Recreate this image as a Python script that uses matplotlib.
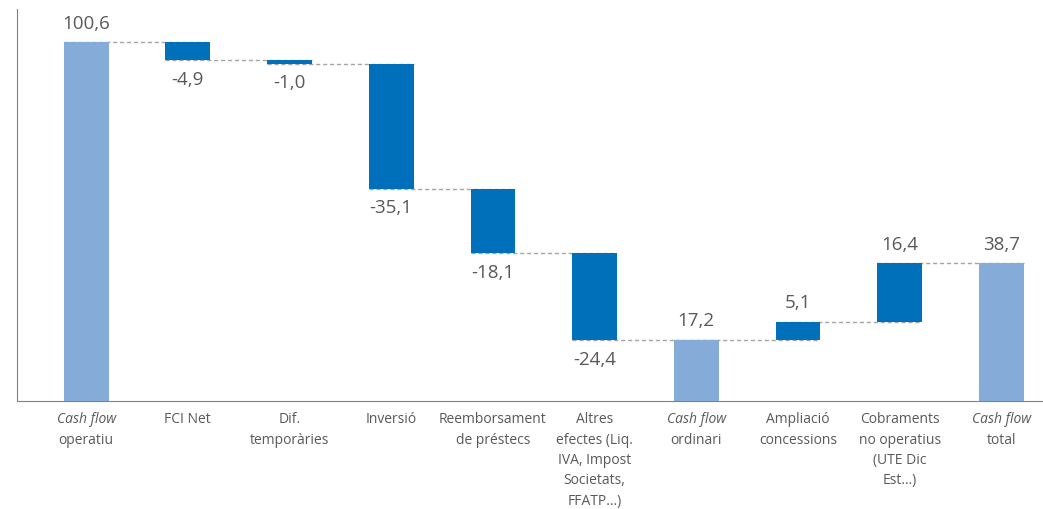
import matplotlib
matplotlib.use("Agg")
import matplotlib.pyplot as plt
import numpy as np

plt.rcParams['font.family'] = ['Open Sans', 'DejaVu Sans']

# data
categories = ['Cash flow\noperatiu', 'FCI Net', 'Dif.\ntemporàries', 'Inversió',
              'Reemborsament\nde préstecs', 'Altres\nefectes (Liq.\nIVA, Impost\nSocietats,\nFFATP...)',
              'Cash flow\nordinari', 'Ampliació\nconcessions',
              'Cobraments\nno operatius\n(UTE Dic\nEst…)', 'Cash flow\ntotal']
values = [100.6, -4.9, -1.0, -35.1, -18.1, -24.4, 17.2, 5.1, 16.4, 38.7]
is_total = [True, False, False, False, False, False, True, False, False, True]
value_labels = ['100,6', '-4,9', '-1,0', '-35,1', '-18,1', '-24,4', '17,2', '5,1', '16,4', '38,7']

total_col = '#85ABD9'
delta_col = '#0070BA'
text_col = '#595959'
line_col = '#A6A6A6'
tick_fs = 10
tick_pad = 7.5
line_h = 14.6  # points between label lines

fig = plt.figure(figsize=(10.43, 5.10), dpi=100)
ax = fig.add_axes([0.0163, 0.2118, 0.9837, 0.7686])

x = np.arange(len(values))
w = 0.44
level = 0.0
for i in range(len(values)):
    v = values[i]
    if is_total[i]:
        b, t = 0.0, v
        level = v
    else:
        b, t = (level, level + v) if v > 0 else (level + v, level)
        level = level + v
    ax.bar(x[i], t - b, bottom=b, width=w, color=total_col if is_total[i] else delta_col, zorder=3)
    if v > 0:
        ax.annotate(value_labels[i], (x[i], t), xytext=(0, 7.5), textcoords='offset points',
                    ha='center', va='bottom', fontsize=13.5, color=text_col)
    else:
        ax.annotate(value_labels[i], (x[i], b), xytext=(0, -7), textcoords='offset points',
                    ha='center', va='top', fontsize=13.5, color=text_col)

# connectors
level = 0.0
for i in range(len(values) - 1):
    if is_total[i]:
        level = values[i]
    else:
        level = level + values[i]
    ax.plot([x[i] - w / 2, x[i + 1] + w / 2], [level, level], ls=(0, (3, 2)),
            color=line_col, lw=1, zorder=2)

# category labels, "Cash flow" in italic
for i, c in enumerate(categories):
    lines = c.split('\n')
    for j, ln in enumerate(lines):
        ax.annotate(ln, (x[i], 0), xycoords=('data', 'axes fraction'),
                    xytext=(0, -tick_pad - j * line_h), textcoords='offset points',
                    ha='center', va='top', fontsize=tick_fs, color=text_col,
                    style='italic' if ln == 'Cash flow' else 'normal')

ax.set_xlim(-0.68, 9.41)
ax.set_ylim(0, 110)
ax.set_xticks([])
ax.set_yticks([])
for s in ['top', 'right']:
    ax.spines[s].set_visible(False)
ax.spines['left'].set_color('#808080')
ax.spines['bottom'].set_color('#808080')

plt.savefig('out.png', dpi=100)
